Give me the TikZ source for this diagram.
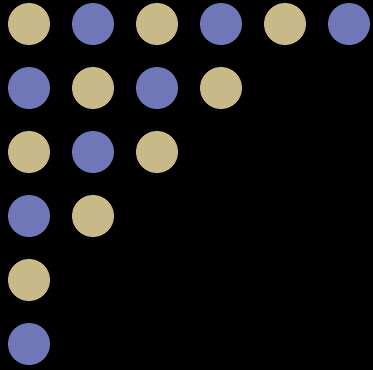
\documentclass[tikz,border=0pt]{standalone}
\definecolor{sand}{HTML}{C8BA88}
\definecolor{slate}{HTML}{7077B8}
\begin{document}
\begin{tikzpicture}[
  x=1pt,y=-1pt,
  dot/.style={circle,inner sep=0pt,minimum size=42pt},
  dotA/.style={dot,fill=sand},
  dotB/.style={dot,fill=slate}
]
  \fill[black] (0,0) rectangle (373,370);
  \useasboundingbox (0,0) rectangle (373,370);

  % rows of dots, lengths 6 4 3 2 1 1
  \foreach \r/\len in {0/6,1/4,2/3,3/2,4/1,5/1}{
    \foreach \c in {1,...,\len}{
      \pgfmathtruncatemacro{\k}{mod(\r+\c-1,2)}
      \ifnum\k=0
        \node[dotA] (d-\r-\c) at (29+64*\c-64,24+64*\r) {};
      \else
        \node[dotB] (d-\r-\c) at (29+64*\c-64,24+64*\r) {};
      \fi
    }
  }
\end{tikzpicture}
\end{document}
